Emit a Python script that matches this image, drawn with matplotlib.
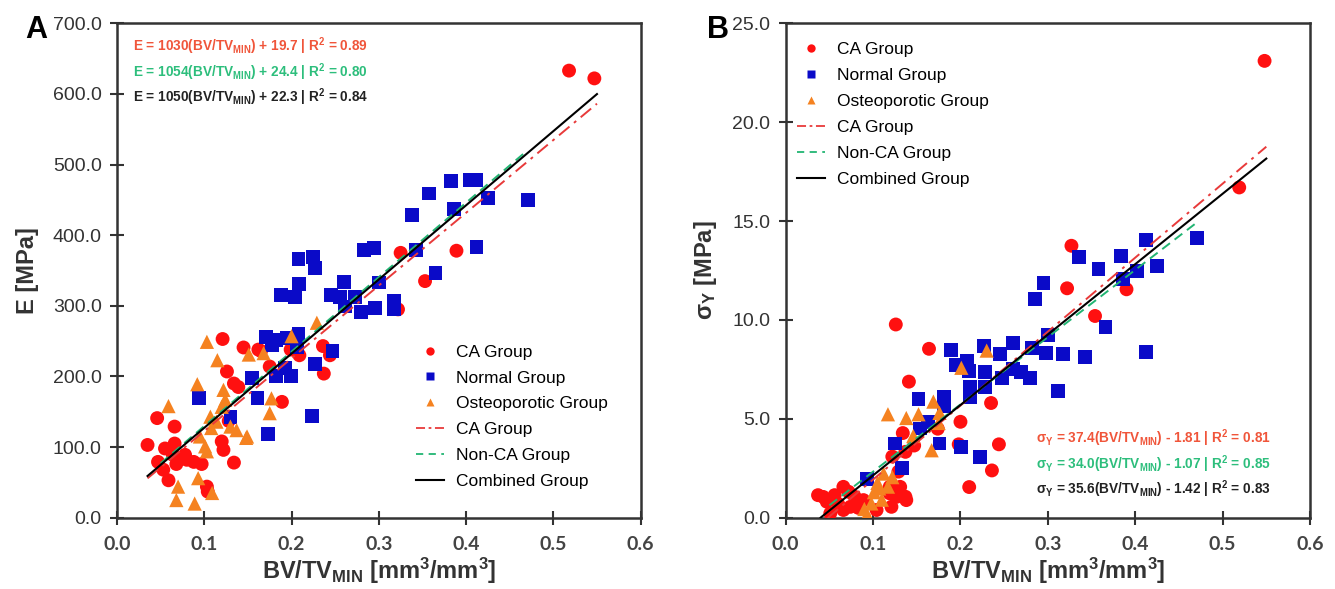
import matplotlib as mpl
mpl.use('Agg')
import matplotlib.pyplot as plt
from matplotlib.ticker import MultipleLocator, FormatStrFormatter
from matplotlib.lines import Line2D
import numpy as np

plt.rcParams['font.family'] = ['Liberation Sans', 'DejaVu Sans']
plt.rcParams['mathtext.fontset'] = 'custom'
plt.rcParams['mathtext.rm'] = 'Liberation Sans'
plt.rcParams['mathtext.bf'] = 'Liberation Sans:bold'
plt.rcParams['mathtext.it'] = 'Liberation Sans:italic'

# ---- panel A data: E [MPa] vs BV/TV_MIN ----
ca_x_A = [0.035, 0.046, 0.047, 0.053, 0.055, 0.059, 0.064, 0.066, 0.066, 0.068,
          0.078, 0.080, 0.088, 0.097, 0.103, 0.104, 0.120, 0.121, 0.122, 0.126,
          0.128, 0.134, 0.134, 0.139, 0.145, 0.162, 0.165, 0.175, 0.189, 0.199,
          0.209, 0.236, 0.237, 0.244, 0.322, 0.325, 0.353, 0.389, 0.518, 0.547]
ca_y_A = [103, 141, 79, 68, 98, 53, 89, 129, 105, 76,
          89, 82, 79, 76, 44, 37, 108, 253, 96, 207,
          137, 190, 78, 185, 241, 238, 236, 214, 164, 238,
          230, 243, 204, 230, 295, 375, 335, 378, 633, 622]

nor_x_A = [0.383, 0.405, 0.412, 0.358, 0.425, 0.471, 0.386, 0.338, 0.343, 0.412,
           0.365, 0.208, 0.225, 0.227, 0.209, 0.188, 0.204, 0.283, 0.294, 0.260,
           0.245, 0.256, 0.273, 0.261, 0.280, 0.300, 0.296, 0.317, 0.317, 0.171,
           0.182, 0.195, 0.208, 0.178, 0.206, 0.155, 0.182, 0.199, 0.193, 0.227,
           0.247, 0.223, 0.161, 0.173, 0.094, 0.130]
nor_y_A = [477, 478, 478, 459, 453, 450, 437, 429, 379, 383,
           347, 366, 369, 353, 331, 315, 313, 379, 382, 334,
           315, 313, 313, 299, 291, 333, 297, 296, 307, 256,
           251, 255, 260, 244, 241, 198, 201, 201, 212, 217,
           236, 144, 170, 119, 170, 143]

ost_x_A = [0.059, 0.068, 0.070, 0.089, 0.092, 0.093, 0.095, 0.101, 0.103, 0.103,
           0.107, 0.108, 0.109, 0.114, 0.115, 0.120, 0.122, 0.124, 0.130, 0.137,
           0.148, 0.149, 0.151, 0.168, 0.175, 0.177, 0.200, 0.229]
ost_y_A = [158, 25, 44, 20, 189, 56, 115, 101, 249, 94,
           143, 127, 35, 136, 223, 157, 181, 167, 129, 124,
           113, 115, 231, 233, 148, 169, 257, 276]

# ---- panel B data: yield stress [MPa] vs BV/TV_MIN ----
ca_x_B = [0.037, 0.047, 0.051, 0.056, 0.066, 0.066, 0.072, 0.074, 0.079, 0.089,
          0.104, 0.119, 0.119, 0.121, 0.122, 0.127, 0.131, 0.137, 0.138, 0.126,
          0.129, 0.134, 0.137, 0.141, 0.147, 0.164, 0.174, 0.198, 0.200, 0.210,
          0.235, 0.236, 0.244, 0.322, 0.327, 0.354, 0.390, 0.519, 0.548, 0.060,
          0.043, 0.083]
ca_y_B = [1.14, 0.81, 0.22, 1.14, 1.56, 0.39, 1.31, 0.55, 1.06, 0.89,
          0.39, 1.23, 1.56, 0.55, 3.09, 1.06, 1.56, 1.06, 0.89, 9.77,
          2.33, 4.28, 3.33, 6.88, 3.65, 8.54, 4.50, 3.71, 4.85, 1.55,
          5.80, 2.39, 3.71, 11.6, 13.75, 10.2, 11.55, 16.7, 23.1, 0.70,
          1.05, 0.50]

nor_x_B = [0.471, 0.412, 0.336, 0.384, 0.425, 0.358, 0.402, 0.386, 0.295, 0.285,
           0.366, 0.300, 0.412, 0.282, 0.298, 0.317, 0.343, 0.260, 0.245, 0.227,
           0.189, 0.195, 0.207, 0.210, 0.228, 0.228, 0.211, 0.211, 0.248, 0.260,
           0.269, 0.280, 0.312, 0.152, 0.181, 0.181, 0.163, 0.154, 0.176, 0.201,
           0.222, 0.125, 0.133, 0.093]
nor_y_B = [14.13, 14.05, 13.18, 13.22, 12.75, 12.56, 12.46, 12.08, 11.89, 11.04,
           9.66, 9.24, 8.39, 8.58, 8.33, 8.26, 8.14, 8.83, 8.26, 8.67,
           8.48, 7.73, 7.92, 7.44, 7.35, 6.59, 6.59, 6.12, 7.06, 7.54,
           7.35, 7.06, 6.40, 5.98, 6.12, 5.64, 4.85, 4.51, 3.75, 3.56,
           3.09, 3.75, 2.52, 1.95]

ost_x_B = [0.230, 0.201, 0.169, 0.117, 0.138, 0.152, 0.176, 0.146, 0.167, 0.175,
           0.112, 0.105, 0.101, 0.107, 0.110, 0.098, 0.090, 0.117, 0.122, 0.093]
ost_y_B = [8.45, 7.58, 5.87, 5.23, 5.04, 5.23, 5.30, 4.13, 3.41, 4.79,
           2.23, 1.76, 1.29, 1.48, 0.91, 0.72, 0.44, 1.57, 2.05, 0.15]

# regression fits (slope, intercept, x range)
fits_A = {'CA': (1030, 19.7, 0.035, 0.55), 'Non-CA': (1054, 24.4, 0.05, 0.47),
          'Combined': (1050, 22.3, 0.035, 0.55)}
fits_B = {'CA': (37.4, -1.81, 0.048, 0.55), 'Non-CA': (34.0, -1.07, 0.05, 0.47),
          'Combined': (35.6, -1.42, 0.04, 0.55)}

eq_A = [r'E = 1030(BV/TV$_{\mathbf{MIN}}$) + 19.7 | R$^{\mathbf{2}}$ = 0.89',
        r'E = 1054(BV/TV$_{\mathbf{MIN}}$) + 24.4 | R$^{\mathbf{2}}$ = 0.80',
        r'E = 1050(BV/TV$_{\mathbf{MIN}}$) + 22.3 | R$^{\mathbf{2}}$ = 0.84']
eq_B = [r'σ$_{\mathbf{Y}}$ = 37.4(BV/TV$_{\mathbf{MIN}}$) - 1.81 | R$^{\mathbf{2}}$ = 0.81',
        r'σ$_{\mathbf{Y}}$ = 34.0(BV/TV$_{\mathbf{MIN}}$) - 1.07 | R$^{\mathbf{2}}$ = 0.85',
        r'σ$_{\mathbf{Y}}$ = 35.6(BV/TV$_{\mathbf{MIN}}$) - 1.42 | R$^{\mathbf{2}}$ = 0.83']

RED = '#FF1010'
BLUE = '#0A0AC8'
ORANGE = '#F58220'
LRED = '#E83A3A'
LGREEN = '#22B573'
EQ_COLS = ['#F0553A', '#2DBE7C', '#222222']
SPINE = '#333333'

fig = plt.figure(figsize=(13.35, 5.89), dpi=100)
bot = 1 - 517.7 / 589
hgt = (517.7 - 23.3) / 589
axA = fig.add_axes([117 / 1335, bot, (640.6 - 117) / 1335, hgt])
axB = fig.add_axes([785.7 / 1335, bot, (1310 - 785.7) / 1335, hgt])


def draw(ax, cx, cy, nx, ny, ox, oy, fits):
    ax.scatter(cx, cy, s=100, marker='o', c=RED, edgecolors='none', zorder=3)
    ax.scatter(nx, ny, s=100, marker='s', c=BLUE, edgecolors='none', zorder=3)
    ax.scatter(ox, oy, s=105, marker='^', c=ORANGE, edgecolors='none', zorder=3)
    styles = {'CA': dict(c=LRED, ls=(0, (7, 3, 1.5, 3)), lw=1.4),
              'Non-CA': dict(c=LGREEN, ls=(0, (5, 3)), lw=1.4),
              'Combined': dict(c='black', ls='-', lw=1.5)}
    for k in ['CA', 'Non-CA', 'Combined']:
        m, b, x0, x1 = fits[k]
        xs = np.array([x0, x1])
        ax.plot(xs, m * xs + b, zorder=4, **styles[k])
    for s in ax.spines.values():
        s.set_color(SPINE)
        s.set_linewidth(1.8)
    ax.set_xlim(0, 0.6)
    ax.xaxis.set_major_locator(MultipleLocator(0.1))
    ax.xaxis.set_major_formatter(FormatStrFormatter('%.1f'))
    ax.yaxis.set_major_formatter(FormatStrFormatter('%.1f'))
    ax.tick_params(direction='inout', length=10, width=1.5, color=SPINE,
                   top=False, right=False)
    ax.tick_params(axis='y', labelsize=14, labelcolor='#333333', pad=6)
    ax.tick_params(axis='x', labelsize=14, labelcolor='#444444', pad=8)
    for t in ax.get_xticklabels():
        t.set_family(['Lato', 'DejaVu Sans'])
        t.set_fontweight('bold')
    ax.set_xlabel(r'BV/TV$_{\mathbf{MIN}}$ [mm$^{\mathbf{3}}$/mm$^{\mathbf{3}}$]',
                  fontsize=17, fontweight='bold', color='#333333', labelpad=2)


def legend(ax, loc, anchor):
    h = [Line2D([], [], ls='none', marker='o', ms=6, mfc=RED, mec='none'),
         Line2D([], [], ls='none', marker='s', ms=5.5, mfc=BLUE, mec='none'),
         Line2D([], [], ls='none', marker='^', ms=6, mfc=ORANGE, mec='none'),
         Line2D([], [], c=LRED, ls=(0, (5, 2, 1.5, 2)), lw=1.3),
         Line2D([], [], c=LGREEN, ls=(0, (4, 3)), lw=1.3),
         Line2D([], [], c='black', lw=1.5)]
    lab = ['CA Group', 'Normal Group', 'Osteoporotic Group', 'CA Group',
           'Non-CA Group', 'Combined Group']
    ax.legend(h, lab, loc=loc, bbox_to_anchor=anchor, frameon=False,
              fontsize=12.5, handlelength=1.6, handletextpad=0.7,
              labelspacing=0.62, borderpad=0)


draw(axA, ca_x_A, ca_y_A, nor_x_A, nor_y_A, ost_x_A, ost_y_A, fits_A)
axA.set_ylim(0, 700)
axA.yaxis.set_major_locator(MultipleLocator(100))
axA.set_ylabel('E [MPa]', fontsize=17, fontweight='bold', color='#333333', labelpad=10)
legend(axA, 'upper left', (0.555, 0.368))
for i, t in enumerate(eq_A):
    axA.text(0.03, 0.953 - i * 0.051, t, transform=axA.transAxes, fontsize=9.8,
             fontweight='bold', color=EQ_COLS[i], va='center')

draw(axB, ca_x_B, ca_y_B, nor_x_B, nor_y_B, ost_x_B, ost_y_B, fits_B)
axB.set_ylim(0, 25)
axB.yaxis.set_major_locator(MultipleLocator(5))
axB.set_ylabel(r'σ$_{\mathbf{Y}}$ [MPa]', fontsize=17, fontweight='bold',
               color='#333333', labelpad=10)
legend(axB, 'upper left', (0.005, 0.98))
for i, t in enumerate(eq_B):
    axB.text(0.925, 0.160 - i * 0.051, t, transform=axB.transAxes, fontsize=9.8,
             fontweight='bold', color=EQ_COLS[i], va='center', ha='right')

fig.text(25 / 1335, 1 - 30 / 589, 'A', fontsize=22, fontweight='bold', va='center')
fig.text(707 / 1335, 1 - 30 / 589, 'B', fontsize=22, fontweight='bold', va='center')

fig.savefig('out.png', dpi=100)
